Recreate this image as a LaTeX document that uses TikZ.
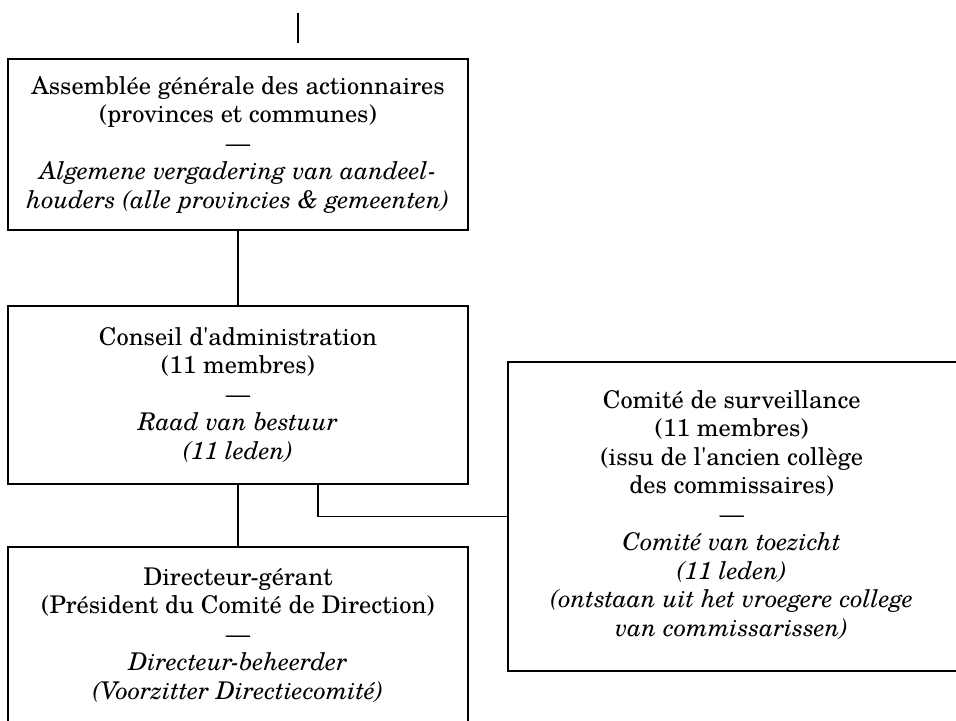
\documentclass[tikz,border=0pt]{standalone}
\usepackage{fontspec}
\setmainfont{TeX Gyre Schola}
\usetikzlibrary{positioning}

\begin{document}
\begin{tikzpicture}[x=0.5pt,y=-0.5pt,
  box/.style={draw,align=center,inner sep=0pt,minimum width=230pt,
    font=\fontsize{12.2}{14.25}\selectfont},
  every path/.style={line width=0.75pt}]
\useasboundingbox (0,0) rectangle (956,721);

% top of the chart
\coordinate (0) at (298,13);

\node[box,minimum height=85.5pt] (1) at (238,144.5)
  {Assembl\'ee g\'en\'erale des actionnaires\\(provinces et communes)\\---\\
   \textit{Algemene vergadering van aandeel-}\\\textit{houders (alle provincies \& gemeenten)}};

\node[box,minimum height=89pt] (2) at (238,395)
  {Conseil d\textquotesingle administration\\(11 membres)\\---\\
   \textit{Raad van bestuur}\\\textit{(11 leden)}};

% right side of this box lies past the page edge
\node[box,align=none,minimum width=250pt,minimum height=154.5pt,anchor=west] (3) at (507,516.5)
  {\begin{tabular}{@{}c@{}}Comit\'e de surveillance\\(11 membres)\\(issu de l\textquotesingle ancien coll\`ege\\des commissaires)\\---\\
   \textit{Comit\'e van toezicht}\\\textit{(11 leden)}\\\textit{(ontstaan uit het vroegere college}\\\textit{van commissarissen)}\end{tabular}\hspace*{26pt}};

\node[box,minimum height=88pt] (4) at (238,635)
  {Directeur-g\'erant\\(Pr\'esident du Comit\'e de Direction)\\---\\
   \textit{Directeur-beheerder}\\\textit{(Voorzitter Directiecomit\'e)}};

\draw (0) -- ++(0,30);
\draw (1) -- (2);
\draw (2) -- (4);
\draw ([xshift=40pt]2.south) |- (3.west);

\end{tikzpicture}
\end{document}
